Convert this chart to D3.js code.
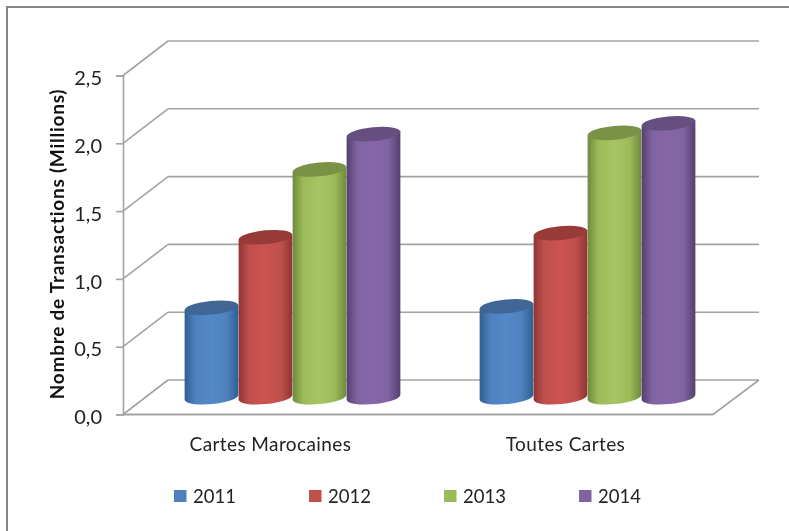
<!DOCTYPE html>
<html><head><meta charset="utf-8">
<script src="https://cdn.jsdelivr.net/npm/d3@7"></script>
<style>html,body{margin:0;padding:0;background:#fff}svg{display:block;filter:blur(0.3px)}text{font-family:Lato,"Open Sans",sans-serif;fill:#222}</style>
</head><body><svg id="c" width="789" height="531"></svg>
<script>
const categories = ["Cartes Marocaines","Toutes Cartes"];
const years = ["2011","2012","2013","2014"];
const series2011 = [0.66,0.67];
const series2012 = [1.18,1.21];
const series2013 = [1.68,1.95];
const series2014 = [1.94,2.02];
const tickValues = [0,0.5,1,1.5,2,2.5];
const baseColors = ["#4f81bd","#c0504d","#9bbb59","#8064a2"];
const midColors = ["#5389c9","#cc5350","#a5c663","#8865a8"];
const darkColors = ["#2f5f92","#8f3533","#6f8a3c","#54406e"];
const topColors = ["#3f6694","#973a38","#7a9245","#654f80"];
const seriesValues = [series2011,series2012,series2013,series2014];

const svg = d3.select("#c");
const W = 789, H = 531;
const depthX = 45, depthY = -34.5;
const gridColor = "#a3a3a3";
const x0 = d3.scaleBand().domain(categories).range([123,713]);
const y = d3.scaleLinear().domain([0,2.5]).range([414.5,75.5]);
const x1 = d3.scaleBand().domain(years).range([0,216]);

const defs = svg.append("defs");
years.forEach((yr,i)=>{
  const g = defs.append("linearGradient").attr("id","g"+i);
  [[0,darkColors[i]],[0.2,baseColors[i]],[0.5,midColors[i]],[0.78,baseColors[i]],[1,darkColors[i]]]
    .forEach(([o,c])=>g.append("stop").attr("offset",o).attr("stop-color",c));
});

svg.append("rect").attr("width",W).attr("height",H).attr("fill","#fff");
svg.append("path").attr("d",`M7,${H}V7H${W}`).attr("fill","none").attr("stroke","#868686").attr("stroke-width",2);

const ln = (a,b,c,d,w=1.6)=>svg.append("line").attr("x1",a).attr("y1",b).attr("x2",c).attr("y2",d)
  .attr("stroke",gridColor).attr("stroke-width",w);
const xL = x0.range()[0], xR = x0.range()[1];
tickValues.forEach(t=>{
  ln(xL,y(t),xL+depthX,y(t)+depthY);
  ln(xL+depthX,y(t)+depthY,xR+depthX+1,y(t)+depthY);
});
ln(xL,y(0),xR,y(0),2);
ln(xR,y(0),xR+depthX+1,y(0)+depthY);

const axis = d3.axisLeft(y).tickValues(tickValues).tickSize(7).tickPadding(14)
  .tickFormat(d=>d3.format(".1f")(d).replace(".",","));
const ag = svg.append("g").attr("transform",`translate(${xL},0)`).call(axis);
ag.select(".domain").attr("stroke",gridColor).attr("stroke-width",1.6);
ag.selectAll(".tick line").attr("stroke",gridColor).attr("stroke-width",1.6);
ag.selectAll(".tick text").attr("font-size",20).attr("fill","#222").attr("dy","0.46em")
  .style("font-family","Lato");

const rx = 27, ry = 6.9, tilt = -5.5, midDepth = 0.5;
categories.forEach((cat,ci)=>{
  const cx = x0(cat)+x0.bandwidth()/2+depthX*midDepth-0.5;
  years.forEach((yr,si)=>{
    const v = seriesValues[si][ci];
    const xc = cx-108+x1(yr)+x1.bandwidth()/2;
    const yb = y(0)+depthY*midDepth;
    const yt = y(v)+depthY*midDepth;
    const rad = tilt*Math.PI/180;
    const dx = rx*Math.cos(rad), dy = rx*Math.sin(rad);
    const g = svg.append("g");
    g.append("path")
      .attr("d",`M${xc-dx},${yt-dy}L${xc-dx},${yb-dy}A${rx},${ry} ${tilt} 0 0 ${xc+dx},${yb+dy}L${xc+dx},${yt+dy}Z`)
      .attr("fill",`url(#g${si})`);
    g.append("ellipse").attr("rx",rx).attr("ry",ry)
      .attr("transform",`translate(${xc},${yt}) rotate(${tilt})`).attr("fill",topColors[si]);
  });
});

svg.append("g").selectAll("text").data(categories).join("text")
  .attr("x",d=>x0(d)+x0.bandwidth()/2).attr("y",451)
  .attr("text-anchor","middle").attr("font-size",19).attr("letter-spacing",0.4).text(d=>d);

svg.append("text").attr("transform","translate(64,244) rotate(-90)")
  .attr("text-anchor","middle").attr("font-size",19).attr("font-weight",700).attr("letter-spacing",0.75)
  .style("fill","#111").text("Nombre de Transactions (Millions)");

const legendX = d3.scalePoint().domain(years).range([174,579]);
const lg = svg.append("g").selectAll("g").data(years).join("g")
  .attr("transform",d=>`translate(${legendX(d)},490)`);
lg.append("rect").attr("width",12.5).attr("height",12).attr("fill",(d,i)=>baseColors[i]);
lg.append("text").attr("x",19).attr("y",13).attr("font-size",18.5).text(d=>d);
</script></body></html>
